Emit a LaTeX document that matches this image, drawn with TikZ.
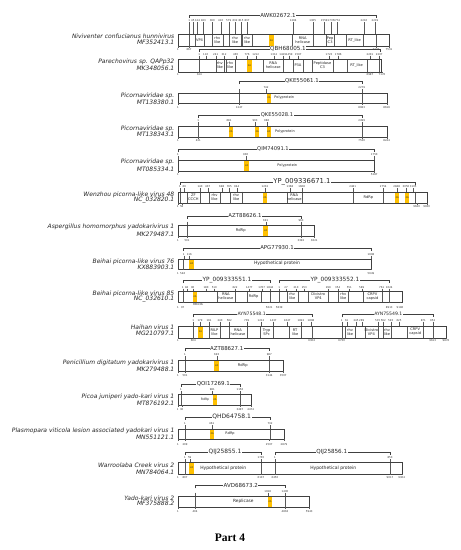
\documentclass[tikz,border=0pt]{standalone}
\usepackage{fontspec}
\setmainfont{DejaVu Sans}
\newfontfamily\partfont{Liberation Serif}
\definecolor{twoAcol}{HTML}{FFC000}
\newcommand\Gset[2]{\def\Yt{#1}\def\Yb{#2}}
\newcommand\Gbar[2]{\draw[barline] (#1,\Yt) rectangle (#2,\Yb);}
\newcommand\Gbrk[6]{\draw[brk] (#1,#3+3) -- (#1,#3) -- (#2,#3) -- (#2,#3+3);
  \node[pid,font=\fontsize{#6}{#6}\selectfont] at (#4,#3) {#5};}
\newcommand\Gtop[2]{\foreach \xa/\la in {#2}{\draw[tk] (\xa,#1+1.4) -- (\xa,\Yt); \node[num] at (\xa,#1) {\la};}}
\newcommand\Gbot[2]{\foreach \xa/\la in {#2}{\draw[tk] (\xa,\Yb) -- (\xa,\Yb+1.6); \node[num] at (\xa,#1) {\la};}}
\newcommand\Gvl[1]{\foreach \xa in {#1}{\draw[tk] (\xa,\Yt) -- (\xa,\Yb);}}
\newcommand\Gdom[3]{\draw[tk] (#1,\Yt) -- (#1,\Yb) (#2,\Yt) -- (#2,\Yb);
  \node[dom] at ({(#1+#2)/2},{(\Yt+\Yb)/2}) {#3};}
\newcommand\Gtxt[3]{\node[dom,font=\fontsize{#3}{#3}\selectfont] at (#1,{(\Yt+\Yb)/2}) {#2};}
\newcommand\GtwoA[2]{\fill[twoAcol] (#1,\Yt) rectangle (#2,\Yb);
  \node[twoAtxt] at ({(#1+#2)/2},{(\Yt+\Yb)/2}) {2A};}
\newcommand\Gsp[4]{\node[sp] at (174.5,#1) {#2}; \node[sp] at (174.5,#3) {#4};}
\begin{document}
\begin{tikzpicture}[x=1pt,y=-1pt,
  barline/.style={draw=black!75, line width=0.35pt},
  tk/.style={draw=black!65, line width=0.25pt},
  brk/.style={draw=black!75, line width=0.35pt},
  pid/.style={fill=white, inner sep=0.6pt, text=black!85},
  num/.style={font=\fontsize{2.6}{3}\selectfont, inner sep=0pt, text=black!80},
  dom/.style={font=\fontsize{3.6}{4}\selectfont, align=center, inner sep=0pt, text=black!85},
  sp/.style={font=\fontsize{6}{7}\selectfont\itshape, anchor=east, inner sep=0pt, text=black!85},
  twoAtxt/.style={font=\fontsize{2.4}{3}\selectfont, inner sep=0pt, text=black!80}]
\fill[white] (0,0) rectangle (461,550);
\useasboundingbox (0,0) rectangle (461,550);

% 1 Niviventer
\Gset{34.5}{46}
\Gbrk{189}{376}{15}{278}{AWK02672.1}{5.5}
\Gtop{20.7}{189.3/1,192.8/45,197.5/124,203.3/183,212.3/360,220.7/410,228.7/579,235/632,241/815,247/837,293.3/1264,312.7/1305,324.3/1559,331/1737,336.7/1774,364/2210,375/2219}
\GtwoA{269}{274}
\Gdom{195}{204}{VP4}
\Gdom{212}{222.7}{rhv\\like}
\Gdom{229}{241}{rhv\\like}
\Gdom{242}{252}{rhv\\like}
\Gdom{292.3}{313.3}{RNA\\helicase}
\Gdom{326}{334.3}{Pep\\C3}
\Gdom{346}{363.3}{RT\_like}
\Gvl{189,376}
\Gbar{178}{389}
\Gbot{50}{178/1,189/667,376/7323,389/7531}
\Gsp{36.7}{Niviventer confucianus hunnivirus}{42.7}{MF352413.1}

% 2 Parechovirus
\Gset{59.3}{71.7}
\Gbrk{199.3}{380}{49}{288}{QBH68005.1}{5.6}
\Gtop{54.3}{199.3/1,205.7/110,215.7/241,224/312,235.7/465,247/776,255.7/1212,274/1312,282.7/1429,289.3/1459,298.3/1567,329/1723,338.3/1786,370/2201,379.3/2207}
\GtwoA{247}{252}
\Gdom{215.7}{224}{rhv\\like}
\Gdom{225.7}{235}{rhv\\like}
\Gdom{263.3}{283.3}{RNA\\helicase}
\Gdom{292.7}{303.3}{P3A}
\Gdom{311.7}{333.3}{Peptidase\\C3}
\Gdom{346.7}{366.7}{RT\_like}
\Gvl{199.3,379.3}
\Gbar{178}{381}
\Gbot{75}{178/1,199.3/344,370/6987,382/7176}
\Gsp{61.7}{Parechovirus sp. QAPp32}{68.3}{MK348056.1}

% 3 Picornaviridae MT138380
\Gset{92.7}{103.3}
\Gbrk{239.3}{361.7}{81}{302}{QKE55061.1}{5.4}
\Gtop{87.7}{239.3/{},266/742,361.7/2279}
\GtwoA{266.7}{271}
\Gtxt{284.3}{Polyprotein}{3.5}
\Gvl{239.3,361.7}
\Gbar{178}{386.7}
\Gbot{107.7}{178/1,239.3/1247,361.7/8083,386.7/8616}
\Gsp{95.7}{Picornaviridae sp.}{102.3}{MT138380.1}

% 4 Picornaviridae MT138343
\Gset{126}{137}
\Gbrk{198.3}{361.7}{115}{277}{QKE55028.1}{5.2}
\Gtop{120.7}{198.3/1,229/681,255/903,266.7/986,361.7/2499}
\GtwoA{229}{233}
\GtwoA{255.3}{259.3}
\GtwoA{266.7}{270.7}
\Gtxt{285}{Polyprotein}{3.5}
\Gvl{198.3,361.7}
\Gbar{178}{386.7}
\Gbot{140.3}{178/1,198.3/431,361.7/7530,386.7/8244}
\Gsp{129}{Picornaviridae sp.}{134.5}{MT138343.1}

% 5 Picornaviridae MT085334
\Gset{160}{171}
\Gbrk{177.7}{374.3}{149.3}{273}{QIM74091.1}{5.2}
\Gtop{155}{178/1,245.7/900,374.3/1750}
\GtwoA{244.3}{249}
\Gtxt{287.3}{Polyprotein}{3.5}
\Gbar{178}{374.3}
\Gbot{174.3}{178/1,374.3/5287}
\Gsp{161.7}{Picornaviridae sp.}{169.3}{MT085334.1}

% 6 Wenzhou
\Gset{191.7}{203.3}
\Gbrk{180}{415}{181.7}{302}{YP\_009336671.1}{6.8}
\Gtop{186.9}{180/1,184.3/66,200/140,207.7/407,221.7/698,229.3/765,236.7/944,265/1232,290/1368,301.7/1608,352.7/2481,383.3/2754,396.7/2848,406/3050,413.3/3105}
\GtwoA{262.7}{267.3}
\GtwoA{395.3}{399.3}
\GtwoA{405}{409.3}
\Gdom{186.7}{200}{ZF\\CCCH}
\Gdom{209}{220}{rhv\\like}
\Gdom{230}{242.3}{rhv\\like}
\Gdom{286.7}{301.7}{RNA\\helicase}
\Gvl{352.7,383.3}
\Gtxt{368.3}{RdRp}{3.6}
\Gvl{180,415}
\Gbar{178}{426.7}
\Gbot{206.7}{177.7/1,181.7/58,416.7/9620,426.7/9930}
\Gsp{194.8}{Wenzhou picorna-like virus 48}{199.8}{NC\_032820.1}

% 7 Aspergillus
\Gset{225.3}{236}
\Gbrk{186.7}{301}{215.7}{245}{AZT88626.1}{5.4}
\Gtop{220.3}{186.7/{},265.7/691,301/963}
\GtwoA{263.3}{268.3}
\Gtxt{240.7}{RdRp}{3.7}
\Gvl{186.7,301}
\Gbar{178}{314.3}
\Gbot{241}{178/1,187/501,301/3392,314.3/3621}
\Gsp{227.3}{Aspergillus homomorphus yadokarivirus 1}{234.5}{MK279487.1}

% 8 Beihai 76
\Gset{258.7}{268.7}
\Gbrk{183.3}{371}{247.7}{277}{APG77930.1}{5.4}
\Gtop{254.3}{183.8/1,189.3/116,371/1698}
\GtwoA{189.3}{194}
\Gtxt{277}{Hypothetical protein}{4.5}
\Gvl{183.3,371}
\Gbar{178}{371}
\Gbot{274}{178/1,182.7/546,371/5649}
\Gsp{262}{Beihai picorna-like virus 76}{267.3}{KX883903.1}

% 9 Beihai 85
\Gset{290.7}{301.7}
\Gbrk{182.7}{270}{280}{227}{YP\_009333551.1}{5.8}
\Gbrk{279.3}{389.3}{280}{335}{YP\_009333552.1}{5.8}
\Gtop{287.3}{182.7/1,186.7/84,192.7/90,206/180,214.3/510,235/622,249.3/1477,261.7/1767,270/1844,279.3/1,286/27,296/210,304.3/253,328.3/299,337.7/354,349.3/551,361.7/589,381.7/761,389.3/1024}
\GtwoA{192.7}{197.3}
\Gdom{216.7}{235}{RNA\\helicase}
\Gdom{246.7}{260.7}{RdRp}
\Gdom{286.7}{297.7}{rhv\\like}
\Gdom{308.3}{328.3}{Dicistro\\VP4}
\Gdom{338.3}{348.3}{rhv\\like}
\Gdom{363.3}{381.7}{CRPV\\capsid}
\Gvl{182.7,270,279.3,389.3}
\Gbar{178}{401.7}
\Gbot{307.3}{178/1,182.7/97,269.3/5621,279.3/5839,389.3/8913,400/9186}
\node[num,font=\fontsize{2.9}{3}\selectfont] (rb) at (198,304.3) {RB43A};
\Gsp{294}{Beihai picorna-like virus 85}{299.3}{NC\_032610.1}

% 10 Haihan
\Gset{326}{337.7}
\Gbrk{193.3}{311.7}{314.3}{251.7}{AYN75548.1}{4.6}
\Gbrk{341.7}{432.7}{314.3}{388.3}{AYN75549.1}{4.6}
\Gtop{320.3}{193.3/1,200/179,209/191,220/240,229.3/582,246.7/709,261/1212,273.3/1437,287.3/1647,301/1822,311/1898,341.7/1,346.7/61,356/245,361.7/289,377.7/535,383.3/562,390.7/593,399/625,423.3/871,432.7/952}
\GtwoA{198}{203}
\Gdom{209}{220}{RILP\\like}
\Gdom{229.3}{246.7}{RNA\\helicase}
\Gdom{260}{273.3}{Tryp\\SPc}
\Gdom{289.3}{301}{RT\\like}
\Gdom{345}{355}{rhv\\like}
\Gdom{365}{377.7}{Dicistro\\VP4}
\Gdom{383.3}{390.7}{rhv\\like}
\Gdom{407.3}{423.3}{CRPV\\capsid}
\Gvl{193.3,311.7,341.7,432.7}
\Gbar{178}{446}
\Gbot{341}{178/1,193.3/604,311.7/6304,341.7/6730,432.7/9613,446/9876}
\Gsp{327.7}{Haihan virus 1}{333.3}{MG210797.1}

% 11 Penicillium
\Gset{360.3}{371.3}
\Gbrk{185}{269.3}{348.3}{226.7}{AZT88627.1}{5.4}
\Gtop{354.7}{185/1,216.7/693,269.3/987}
\GtwoA{214.3}{219}
\Gtxt{242.7}{RdRp}{3.7}
\Gvl{185,269.3}
\Gbar{178}{283.3}
\Gbot{375.3}{178/1,185/501,269.3/3144,283.3/3507}
\Gsp{363}{Penicillium digitatum yadokarivirus 1}{369.7}{MK279488.1}

% 12 Picoa
\Gset{394}{405}
\Gbrk{181}{240}{383.7}{213.3}{QOI17269.1}{5.5}
\Gtop{389.7}{181/1,212.3/981,240/1156}
\GtwoA{212.7}{217}
\Gtxt{205}{RdRp}{3.1}
\Gvl{181,240}
\Gbar{178}{250.7}
\Gbot{410}{177.7/1,181.7/30,240/3497,250.7/4474}
\Gsp{396.7}{Picoa juniperi yado-kari virus 1}{403.3}{MT876192.1}

% 13 Plasmopara
\Gset{428.7}{439.3}
\Gbrk{185}{270}{416.7}{231.7}{QHD64758.1}{6}
\Gtop{424}{185/1,211.7/461,270/732}
\GtwoA{210}{214.3}
\Gtxt{230}{RdRp}{3.5}
\Gvl{185,270}
\Gbar{178}{284}
\Gbot{444.3}{178/1,185/209,269.3/2507,284/2879}
\Gsp{431}{Plasmopara viticola lesion associated yadokari virus 1}{437.7}{MN551121.1}

% 14 Warroolaba
\Gset{462}{473.7}
\Gbrk{185}{261}{452}{225}{QIJ25855.1}{5.9}
\Gbrk{275}{390}{452}{331.7}{QIJ25856.1}{5.6}
\Gtop{457.7}{185/1,189.7/59,261/1765,275/1,390/850}
\GtwoA{189.3}{194}
\Gtxt{223.3}{Hypothetical protein}{4.5}
\Gtxt{333.3}{Hypothetical protein}{4.5}
\Gvl{185,261,275,390}
\Gbar{178}{401.7}
\Gbot{478}{178/1,185/807,261/6107,275/6450,390/9017,401.7/9304}
\Gsp{465.3}{Warroolaba Creek virus 2}{472.7}{MN784064.1}

% 15 Yado-kari
\Gset{496.3}{507.3}
\Gbrk{195}{285}{485.3}{240.7}{AVD68673.2}{5.5}
\Gtop{491.3}{195/{},267.7/1028,285/1400}
\GtwoA{267.7}{272.3}
\Gtxt{243.3}{Replicase}{4.3}
\Gvl{195,285}
\Gbar{178}{309.3}
\Gbot{511.3}{178/1,195/404,285/4863,309.3/5943}
\Gsp{498.7}{Yado-kari virus 2}{503.7}{MF375888.2}

\node[font=\partfont\bfseries\fontsize{11.5}{12}\selectfont, inner sep=0pt] (part) at (230,538) {Part 4};
\end{tikzpicture}
\end{document}
